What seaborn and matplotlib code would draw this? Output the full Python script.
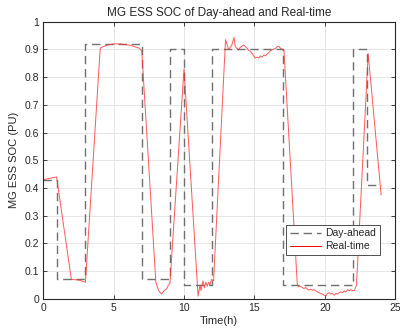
import numpy as np
import pandas as pd
import matplotlib
matplotlib.use("Agg")
import matplotlib.pyplot as plt
import seaborn as sns

# day-ahead schedule, one value per hour (last value repeated to close the step at 24h)
da_hours = list(range(25))
da_soc = [0.43, 0.07, 0.07, 0.92, 0.92, 0.92, 0.92, 0.07, 0.07, 0.90,
          0.05, 0.05, 0.90, 0.90, 0.90, 0.90, 0.90, 0.05, 0.05, 0.05,
          0.05, 0.05, 0.90, 0.41, 0.41]

# real-time SOC
rt_time = [0.0, 0.5, 0.95, 2.0, 2.5, 3.0, 4.05, 4.5, 5.0, 5.5, 6.2, 6.8, 7.0,
           8.0, 8.2, 8.4, 8.6, 8.75, 8.9, 9.0, 10.0, 11.0, 11.14, 11.2, 11.35,
           11.45, 11.55, 11.65, 11.75, 11.85, 11.95, 12.1, 12.95, 13.17, 13.4,
           13.55, 13.64, 13.76, 13.88, 14.0, 14.12, 14.24, 14.36, 14.48, 14.6,
           14.71, 14.83, 14.95, 15.07, 15.19, 15.31, 15.43, 15.55, 15.67, 15.79,
           15.9, 16.02, 16.14, 16.26, 16.38, 16.5, 16.62, 16.74, 16.86, 16.98,
           17.1, 18.05, 18.17, 18.29, 18.4, 18.52, 18.64, 18.76, 18.88, 19.0,
           19.12, 19.24, 19.36, 19.48, 19.6, 19.71, 19.83, 19.95, 20.07, 20.19,
           20.31, 20.43, 20.55, 20.67, 20.79, 20.9, 21.02, 21.14, 21.26, 21.38,
           21.5, 21.62, 21.74, 21.86, 21.98, 22.1, 22.25, 23.08, 24.0]
rt_soc = [0.43, 0.435, 0.44, 0.07, 0.068, 0.06, 0.905, 0.915, 0.92, 0.92, 0.915, 0.905, 0.895,
          0.06, 0.03, 0.017, 0.03, 0.035, 0.05, 0.055, 0.83, 0.01, 0.05, 0.03, 0.065,
          0.04, 0.06, 0.045, 0.06, 0.05, 0.07, 0.065, 0.935, 0.90, 0.916,
          0.944, 0.91, 0.904, 0.898, 0.908, 0.912, 0.916, 0.91, 0.904, 0.896,
          0.893, 0.886, 0.877, 0.869, 0.872, 0.869, 0.877, 0.872, 0.88, 0.877,
          0.884, 0.889, 0.896, 0.899, 0.901, 0.904, 0.91, 0.912, 0.904, 0.901,
          0.896, 0.049, 0.043, 0.045, 0.041, 0.037, 0.041, 0.035, 0.031, 0.035,
          0.031, 0.033, 0.029, 0.025, 0.022, 0.019, 0.017, 0.013, 0.01, 0.019,
          0.022, 0.017, 0.019, 0.013, 0.019, 0.017, 0.022, 0.025, 0.022, 0.029,
          0.025, 0.033, 0.029, 0.033, 0.029, 0.03, 0.05, 0.885, 0.375]

x_ticks = [0, 5, 10, 15, 20, 25]
y_ticks = [0, 0.1, 0.2, 0.3, 0.4, 0.5, 0.6, 0.7, 0.8, 0.9, 1]
y_ticklabels = ["0", "0.1", "0.2", "0.3", "0.4", "0.5", "0.6", "0.7", "0.8", "0.9", "1"]

df_da = pd.DataFrame({"t": da_hours, "soc": da_soc})
df_rt = pd.DataFrame({"t": rt_time, "soc": rt_soc})

sns.set_style("whitegrid")
plt.rcParams["font.family"] = ["Liberation Sans", "DejaVu Sans"]

fig = plt.figure(figsize=(4.0, 3.35), dpi=100)
ax = fig.add_axes([0.108, 0.108, 0.88, 0.827])

sns.lineplot(data=df_da, x="t", y="soc", ax=ax, color="#707070", lw=1.0,
             linestyle=(0, (6, 3.5)), drawstyle="steps-post", label="Day-ahead")
sns.lineplot(data=df_rt, x="t", y="soc", ax=ax, color="#ff3030", lw=0.7,
             alpha=0.8, label="Real-time")

ax.set_xlim(0, 25)
ax.set_ylim(0, 1)
ax.set_xticks(x_ticks)
ax.set_yticks(y_ticks)
ax.set_yticklabels(y_ticklabels)
ax.grid(True, color="#e6e6e6", lw=0.7)
for s in ax.spines.values():
    s.set_color("#262626")
    s.set_linewidth(0.8)
ax.tick_params(direction="in", length=3, width=0.6, labelsize=7.5, colors="#262626",
               top=True, right=True, bottom=True, left=True, pad=3)

ax.set_title("MG ESS SOC of Day-ahead and Real-time", fontsize=8.5, pad=4)
ax.set_xlabel("Time(h)", fontsize=8, labelpad=2)
ax.set_ylabel("MG ESS SOC (PU)", fontsize=8, labelpad=4)

leg = ax.legend(loc="lower right", bbox_to_anchor=(0.957, 0.158), fontsize=7.5,
                frameon=True, fancybox=False, framealpha=1, edgecolor="#333333",
                handlelength=3.0, borderpad=0.35, labelspacing=0.3, handletextpad=0.4,
                borderaxespad=0)
leg.get_frame().set_linewidth(0.6)
leg.get_lines()[1].set_color("red")
leg.get_lines()[1].set_alpha(1)

fig.savefig("out.png", dpi=100)
